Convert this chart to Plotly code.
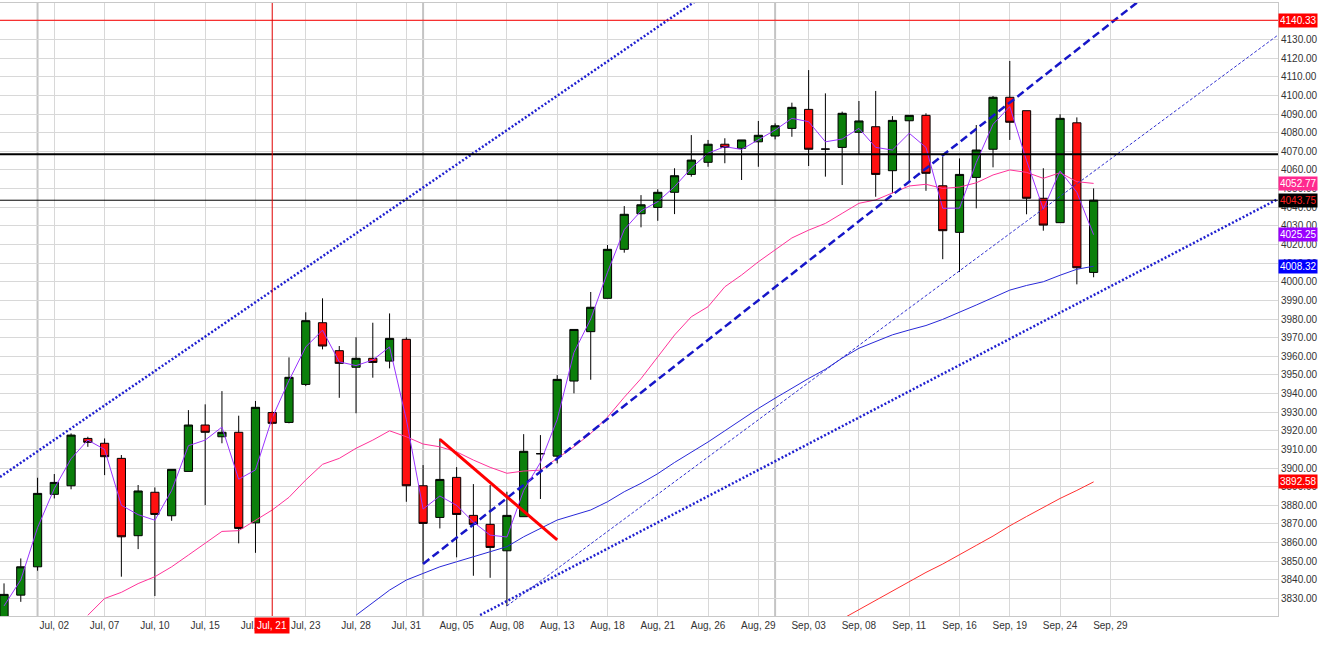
import plotly.graph_objects as go

# daily bars, index 0..65
bar_idx = list(range(66))
opens = [3818.0, 3831.8, 3847.0, 3885.9, 3890.5, 3915.9, 3913.3, 3905.2, 3863.7, 3887.0,
         3874.4, 3898.2, 3923.1, 3916.8, 3919.2, 3870.6, 3929.8, 3924.5, 3944.9, 3978.0,
         3963.0, 3954.1, 3958.9, 3957.4, 3969.1, 3890.5, 3873.5, 3895.0, 3874.6, 3869.8,
         3855.6, 3873.9, 3907.7, 3906.4, 3946.7, 3973.2, 3991.1, 4017.4, 4036.5, 4039.9,
         4048.0, 4057.6, 4064.1, 4073.8, 4071.6, 4075.1, 4078.2, 4082.3, 4092.5, 4071.2,
         4072.1, 4080.2, 4083.2, 4059.6, 4086.4, 4089.3, 4051.5, 4026.5, 4056.0, 4071.1,
         4099.0, 4091.8, 4044.8, 4031.7, 4085.3, 4005.0]
highs = [3838.1, 3851.5, 3894.8, 3896.8, 3918.6, 3916.8, 3915.9, 3907.0, 3890.9, 3889.6,
         3899.3, 3931.1, 3934.2, 3941.3, 3928.1, 3936.0, 3930.5, 3959.4, 3983.6, 3991.1,
         3965.5, 3970.2, 3978.0, 3983.0, 3970.2, 3901.6, 3915.9, 3900.5, 3891.4, 3890.9,
         3887.3, 3918.2, 3917.7, 3949.9, 3974.4, 3994.5, 4019.7, 4040.6, 4046.5, 4049.6,
         4060.9, 4078.7, 4076.1, 4077.0, 4076.1, 4086.3, 4085.0, 4096.1, 4113.6, 4101.1,
         4091.3, 4097.0, 4102.4, 4088.9, 4089.3, 4090.4, 4067.1, 4066.2, 4084.1, 4099.7,
         4118.5, 4091.8, 4060.9, 4089.9, 4088.2, 4050.1]
lows = [3812.0, 3828.2, 3844.9, 3883.7, 3888.6, 3911.4, 3896.2, 3841.7, 3856.5, 3831.3,
        3871.7, 3898.2, 3880.1, 3913.3, 3859.6, 3854.5, 3923.5, 3924.0, 3944.0, 3963.7,
        3937.7, 3929.4, 3948.5, 3953.5, 3881.9, 3848.8, 3867.6, 3852.1, 3842.2, 3841.1,
        3825.9, 3873.9, 3883.4, 3902.5, 3940.1, 3947.4, 3991.1, 4015.6, 4029.2, 4032.7,
        4036.3, 4056.4, 4061.7, 4063.6, 4054.6, 4061.7, 4076.4, 4077.8, 4062.1, 4056.4,
        4051.9, 4068.5, 4045.6, 4047.5, 4053.7, 4048.8, 4012.1, 4005.2, 4039.4, 4061.4,
        4076.1, 4036.2, 4027.4, 4031.7, 3998.6, 4002.4]
closes = [3832.2, 3847.0, 3886.4, 3892.3, 3917.7, 3913.8, 3906.1, 3863.1, 3887.7, 3875.1,
          3899.3, 3923.1, 3919.2, 3919.2, 3867.6, 3932.6, 3924.0, 3948.7, 3979.1, 3965.5,
          3956.2, 3958.9, 3956.7, 3969.6, 3890.5, 3870.3, 3893.9, 3875.1, 3869.8, 3857.4,
          3874.6, 3909.0, 3907.7, 3947.6, 3974.4, 3986.3, 4017.4, 4036.2, 4041.3, 4048.0,
          4056.9, 4065.3, 4073.8, 4072.1, 4076.1, 4078.6, 4083.7, 4093.6, 4071.1, 4071.2,
          4090.4, 4086.3, 4057.6, 4086.6, 4089.3, 4058.2, 4027.4, 4057.6, 4070.7, 4099.0,
          4085.6, 4044.8, 4030.4, 4087.7, 4007.5, 4043.75]

# short moving average (purple)
purple_ma = [3826, 3840, 3868, 3889, 3905, 3915, 3910, 3880, 3875, 3872,
             3888, 3912, 3915, 3922, 3894, 3899, 3927, 3947, 3965, 3974,
             3957, 3955, 3958, 3965, 3926, 3878, 3885, 3880, 3871, 3864,
             3863, 3888, 3903, 3926, 3962, 3980, 4005, 4028, 4038, 4043,
             4051, 4061, 4069, 4072.5, 4071, 4076, 4081.4, 4087.7, 4085.9, 4075.1,
             4076.6, 4082.3, 4072.1, 4070.7, 4079.7, 4072.1, 4039.4, 4039.5, 4064, 4084.5,
             4094, 4065, 4039, 4059.5, 4048, 4025.25]

# medium moving average (pink)
pink_idx = list(range(5, 66))
pink_ma = [3821, 3830, 3833.3, 3838, 3841.7, 3847, 3853.3, 3859.6, 3866, 3866.4,
           3872, 3877.5, 3884.3, 3893.6, 3902, 3905.2, 3910.6, 3915, 3920, 3916.8,
           3912.9, 3911.4, 3908.7, 3904.3, 3900.4, 3897.2, 3898.4, 3898.9, 3905.2, 3911.4,
           3918.6, 3927.3, 3938, 3948, 3959.7, 3971.4, 3981.2, 3986.6, 3997.3, 4003.6,
           4010.7, 4017, 4023.5, 4027.7, 4031.3, 4036.7, 4042.1, 4043.9, 4047.5, 4051.4,
           4052.3, 4050.1, 4050.8, 4053.1, 4057.3, 4060, 4058.7, 4055.5, 4058.5, 4053.7,
           4052.77]

# long moving average (blue)
blue_idx = list(range(21, 66))
blue_ma = [3821, 3828, 3834.5, 3839.9, 3843.5, 3847, 3849.7, 3852.4, 3855.1, 3857.8,
           3863.1, 3867.6, 3872.1, 3874.8, 3877.5, 3881.9, 3887.3, 3891.8, 3897, 3903,
           3908.5, 3914, 3920, 3926, 3932, 3937.5, 3943, 3948.1, 3953, 3959,
           3964.3, 3968, 3971.5, 3974.1, 3976.5, 3979.8, 3983.5, 3987.5, 3991.5, 3995.5,
           3998, 4000, 4003.5, 4006.7, 4008.32]

# slowest moving average (red)
red_idx = list(range(50, 66))
red_ma = [3819, 3824, 3829, 3834, 3839, 3844, 3848.5, 3853.3, 3858.5, 3863.5,
          3869, 3874, 3879, 3883.7, 3888, 3892.58]

# drawn trend lines: (bar index, price) end points
upper_channel_x, upper_channel_y = [-0.24, 41.35], [3895.2, 4151.2]
lower_channel_x, lower_channel_y = [28.4, 76.0], [3821.1, 4044.4]
thin_trend_x, thin_trend_y = [30.0, 76.0], [3826.0, 4132.4]
dashed_trend_x, dashed_trend_y = [25.0, 70.0], [3848.5, 4166.9]
red_trend_x, red_trend_y = [26.0, 33.0], [3915.4, 3861.4]

# horizontal levels
red_level = 4140.33
black_level = 4068.4
last_close_level = 4043.75

# x axis
tick_pos = list(range(3, 67, 3))
tick_text = ["Jul, 02", "Jul, 07", "Jul, 10", "Jul, 15", "Jul, 18", "Jul, 23", "Jul, 28",
             "Jul, 31", "Aug, 05", "Aug, 08", "Aug, 13", "Aug, 18", "Aug, 21", "Aug, 26",
             "Aug, 29", "Sep, 03", "Sep, 08", "Sep, 11", "Sep, 16", "Sep, 19", "Sep, 24",
             "Sep, 29"]
month_starts = [2, 25, 46]
cursor_bar = 16
cursor_label = "Jul, 21"

# value tags on the price scale
tag_values = [4140.33, 4052.77, 4043.75, 4025.25, 4008.32, 3892.58]
tag_bg = ["#ff0000", "#ff2a8f", "#000000", "#9a00ff", "#0000ff", "#ff0000"]
tag_fg = ["white", "white", "#ff2020", "white", "white", "white"]

FONT = "Liberation Sans, Arial, sans-serif"

fig = go.Figure()

fig.add_trace(go.Scatter(x=pink_idx, y=pink_ma, mode="lines",
                         line=dict(color="#ff3399", width=1)))
fig.add_trace(go.Scatter(x=blue_idx, y=blue_ma, mode="lines",
                         line=dict(color="#2828d8", width=1)))
fig.add_trace(go.Scatter(x=red_idx, y=red_ma, mode="lines",
                         line=dict(color="#ff3030", width=1)))

# trend lines
fig.add_trace(go.Scatter(x=upper_channel_x, y=upper_channel_y, mode="lines",
                         line=dict(color="#2020d0", width=2.5, dash="2px,2px")))
fig.add_trace(go.Scatter(x=lower_channel_x, y=lower_channel_y, mode="lines",
                         line=dict(color="#2020d0", width=2.5, dash="2px,2px")))
fig.add_trace(go.Scatter(x=thin_trend_x, y=thin_trend_y, mode="lines",
                         line=dict(color="#3030d0", width=1, dash="3px,2px")))
fig.add_trace(go.Scatter(x=dashed_trend_x, y=dashed_trend_y, mode="lines",
                         line=dict(color="#1616c8", width=2.5, dash="8px,4px")))

fig.add_trace(go.Candlestick(
    x=bar_idx, open=opens, high=highs, low=lows, close=closes,
    increasing=dict(fillcolor="#0b7f0b", line=dict(color="black", width=1)),
    decreasing=dict(fillcolor="#ff1010", line=dict(color="black", width=1)),
    whiskerwidth=0,
))

fig.add_trace(go.Scatter(x=bar_idx, y=purple_ma, mode="lines",
                         line=dict(color="#9933ff", width=1)))
fig.add_trace(go.Scatter(x=red_trend_x, y=red_trend_y, mode="lines",
                         line=dict(color="#ff0000", width=3)))

# levels, cursor and month separators
for m in month_starts:
    fig.add_shape(type="line", x0=m, x1=m, y0=0, y1=1, yref="paper",
                  line=dict(color="#c4c4c4", width=2), layer="below")
fig.add_shape(type="line", x0=0, x1=1, xref="paper", y0=red_level, y1=red_level,
              line=dict(color="#ff0000", width=1))
fig.add_shape(type="line", x0=0, x1=1, xref="paper", y0=black_level, y1=black_level,
              line=dict(color="black", width=2))
fig.add_shape(type="line", x0=0, x1=1, xref="paper", y0=last_close_level, y1=last_close_level,
              line=dict(color="black", width=1))
fig.add_shape(type="line", x0=cursor_bar, x1=cursor_bar, y0=0, y1=1, yref="paper",
              line=dict(color="#e00000", width=1))

for val, bg, fg in zip(tag_values, tag_bg, tag_fg):
    fig.add_annotation(x=1, xref="paper", xanchor="left", y=val, yref="y",
                       text=f"{val:.2f}", showarrow=False, bgcolor=bg,
                       font=dict(family=FONT, size=10, color=fg),
                       borderpad=1, width=36, align="left")

fig.add_annotation(x=cursor_bar, xref="x", y=0, yref="paper", yanchor="top",
                   text=cursor_label, showarrow=False, bgcolor="#ff0000",
                   font=dict(family=FONT, size=10, color="white"), borderpad=2, yshift=-1)

fig.update_layout(
    width=1321, height=646,
    margin=dict(l=0, r=43, t=3, b=30),
    plot_bgcolor="white", paper_bgcolor="white",
    showlegend=False, hovermode=False,
    font=dict(family=FONT, size=10, color="#333333"),
    xaxis=dict(range=[-0.24, 76.0], tickvals=tick_pos, ticktext=tick_text,
               showgrid=True, gridcolor="#d8d8d8", gridwidth=1, zeroline=False,
               showline=True, mirror=True, linecolor="#c8c8c8", ticks="",
               rangeslider=dict(visible=False), tickfont=dict(size=10, color="#333333")),
    yaxis=dict(side="right", range=[3820.6, 4149.6], dtick=10, tick0=0,
               tickformat=".2f", showgrid=True, gridcolor="#d8d8d8", gridwidth=1,
               zeroline=False, showline=True, mirror=True, linecolor="#c8c8c8",
               ticks="", tickfont=dict(size=10, color="#333333")),
)

fig.write_html("out.html", config={"displayModeBar": False},
               post_script="document.body.style.margin='0';")
